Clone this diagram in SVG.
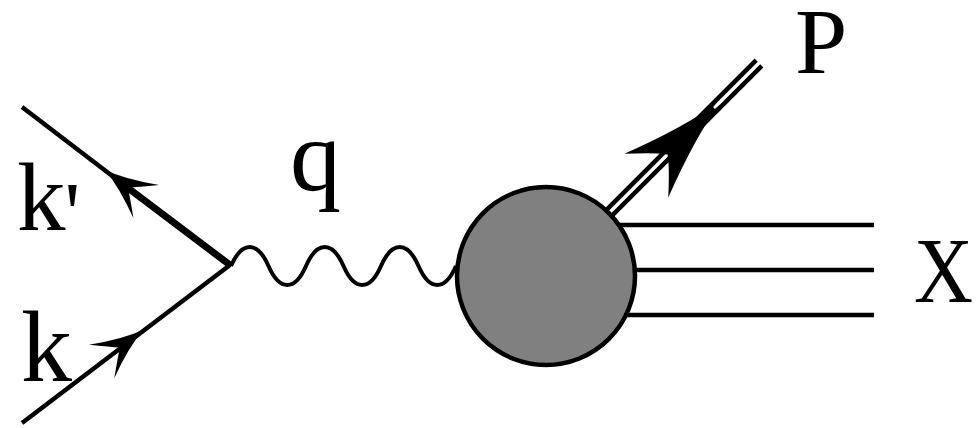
<svg xmlns="http://www.w3.org/2000/svg" xmlns:xlink="http://www.w3.org/1999/xlink" width="980" height="428" viewBox="0 0 980 428">
  <style>
    .ln { stroke: #000; stroke-width: 4.5; fill: none; }
    .thick { stroke: #000; stroke-width: 7; fill: none; }
    .wave { stroke: #000; stroke-width: 4; fill: none; }
    .lbl { fill: #000; font-family: "Liberation Serif", "Times New Roman", serif; }
    .arr { fill: #000; stroke: none; }
  </style>
  <defs>
    <path id="arrS" d="M0,0 Q-22,-5 -52,-21 Q-36,-6 -29,0 Q-36,6 -52,21 Q-22,5 0,0 Z"/>
    <path id="arrL" d="M0,0 Q-45,-7 -107,-31 Q-84,-10 -77,0 Q-84,10 -107,31 Q-45,7 0,0 Z"/>
  </defs>
  <rect width="980" height="428" fill="#fff"/>
  <g id="connectors">
    <line class="ln" x1="22" y1="423" x2="230" y2="265"/>
    <use xlink:href="#arrS" class="arr" transform="translate(143,330) rotate(-37.2)"/>
    <line class="ln" x1="22" y1="107" x2="128" y2="188"/>
    <line class="thick" x1="126" y1="186.5" x2="230" y2="265"/>
    <use xlink:href="#arrS" class="arr" transform="translate(105,170) rotate(217.5)"/>
    <path class="wave" d="M231,266 c11,-25.3 26.5,-25.3 37.5,0 c11,25.3 26.5,25.3 37.5,0 c11,-25.3 26.5,-25.3 37.5,0 c11,25.3 26.5,25.3 37.5,0 c11,-25.3 26.5,-25.3 37.5,0 c11,25.3 26.5,25.3 37.5,0"/>
    <line class="ln" stroke-width="3.8" x1="543.2" y1="273.2" x2="756.2" y2="60.2"/>
    <line class="ln" stroke-width="3.8" x1="548.8" y1="278.8" x2="761.8" y2="65.8"/>
    <use xlink:href="#arrL" class="arr" transform="translate(722,100) rotate(-45)"/>
    <line x1="723" y1="99" x2="714" y2="108" stroke="#fff" stroke-width="2.5"/>
    <line class="ln" x1="546" y1="225" x2="874" y2="225"/>
    <line class="ln" x1="546" y1="270" x2="874" y2="270"/>
    <line class="ln" x1="546" y1="315" x2="874" y2="315"/>
  </g>
  <g id="blob">
    <circle cx="546" cy="276" r="89" fill="#808080" stroke="#000" stroke-width="4.5"/>
  </g>
  <g id="label-kprime">
    <text class="lbl" x="17" y="230" font-size="97">k<tspan dx="-1" dy="13" font-size="88">'</tspan></text>
  </g>
  <g id="label-k">
    <text class="lbl" x="21" y="381" font-size="102">k</text>
  </g>
  <g id="label-q">
    <text class="lbl" x="290" y="190" font-size="102">q</text>
  </g>
  <g id="label-P">
    <text class="lbl" x="795" y="73" font-size="94">P</text>
  </g>
  <g id="label-X">
    <text class="lbl" x="914" y="302" font-size="94" textLength="59" lengthAdjust="spacingAndGlyphs">X</text>
  </g>
</svg>
